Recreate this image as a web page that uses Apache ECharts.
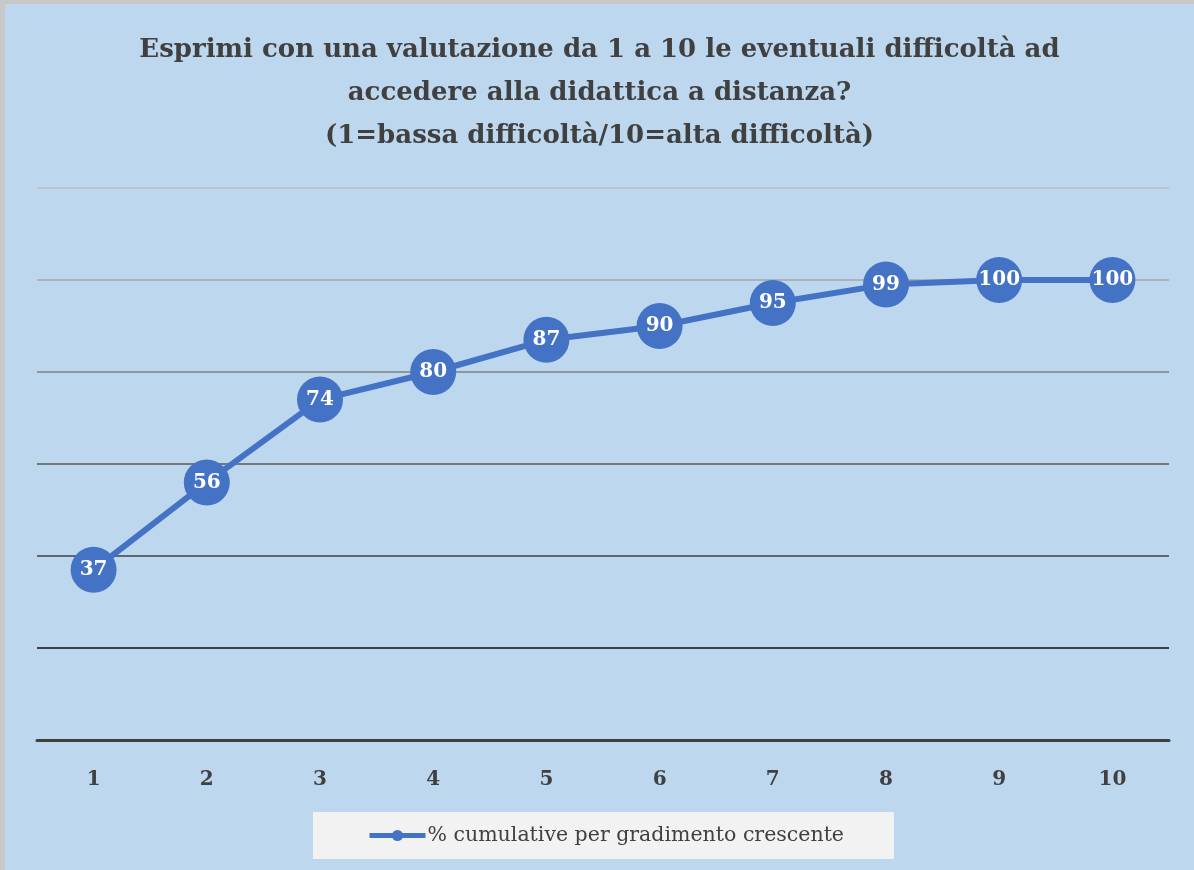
<!DOCTYPE html>
<html>
<head>
<meta charset="utf-8">
<script src="https://cdn.jsdelivr.net/npm/echarts@6/dist/echarts.min.js"></script>
<style>
  html, body { margin: 0; padding: 0; background: #fff; }
  #chart { width: 1194px; height: 870px; box-sizing: border-box; border-left: 5px solid #c8c8c8; border-top: 4px solid #c8c8c8; }
</style>
</head>
<body>
<div id="chart"></div>
<script>
let categories = ["1", "2", "3", "4", "5", "6", "7", "8", "9", "10"];
let cumulative = [37, 56, 74, 80, 87, 90, 95, 99, 100, 100];
let seriesName = "% cumulative per gradimento crescente";
let titleText = "Esprimi con una valutazione da 1 a 10 le eventuali difficoltà ad\naccedere alla didattica a distanza?\n(1=bassa difficoltà/10=alta difficoltà)";

let chart = echarts.init(document.getElementById("chart"));
let serif = "'DejaVu Serif', 'Liberation Serif', serif";

let option = {
    backgroundColor: "#bdd7ee",
    animation: false,
    title: {
        text: titleText,
        left: "center",
        top: 20,
        textStyle: {
            fontFamily: serif,
            fontWeight: "bold",
            fontSize: 26,
            lineHeight: 43,
            color: "#404040"
        }
    },
    grid: { left: 32, right: 25, top: 184, bottom: 130 },
    xAxis: {
        type: "category",
        data: categories,
        boundaryGap: true,
        axisLine: { show: true, lineStyle: { color: "#404040", width: 3 } },
        axisTick: { show: false },
        axisLabel: {
            margin: 30,
            fontFamily: serif,
            fontWeight: "bold",
            fontSize: 20,
            color: "#404040"
        }
    },
    yAxis: {
        type: "value",
        min: 0,
        max: 120,
        interval: 20,
        axisLabel: { show: false },
        axisLine: { show: false },
        axisTick: { show: false },
        splitLine: {
            show: true,
            lineStyle: {
                width: 1.5,
                color: ["#404040", "#0d0d0d", "#404040", "#595959", "#7f7f7f", "#a6a6a6", "#bfbfbf"]
            }
        }
    },
    legend: {
        data: [seriesName],
        bottom: 11,
        left: 308,
        backgroundColor: "#f2f2f2",
        padding: [13, 50, 13, 54],
        itemWidth: 56,
        itemHeight: 14,
        itemGap: 0,
        lineStyle: { width: 5 },
        textStyle: {
            fontFamily: serif,
            fontSize: 20.5,
            color: "#404040",
            padding: [0, 0, 0, -3]
        }
    },
    series: [{
        name: seriesName,
        type: "line",
        data: cumulative,
        symbol: "circle",
        symbolSize: 46,
        lineStyle: { color: "#4472c4", width: 6 },
        itemStyle: { color: "#4472c4" },
        label: {
            show: true,
            position: "inside",
            fontFamily: serif,
            fontWeight: "bold",
            fontSize: 20,
            color: "#ffffff"
        }
    }]
};
chart.setOption(option);
</script>
</body>
</html>
